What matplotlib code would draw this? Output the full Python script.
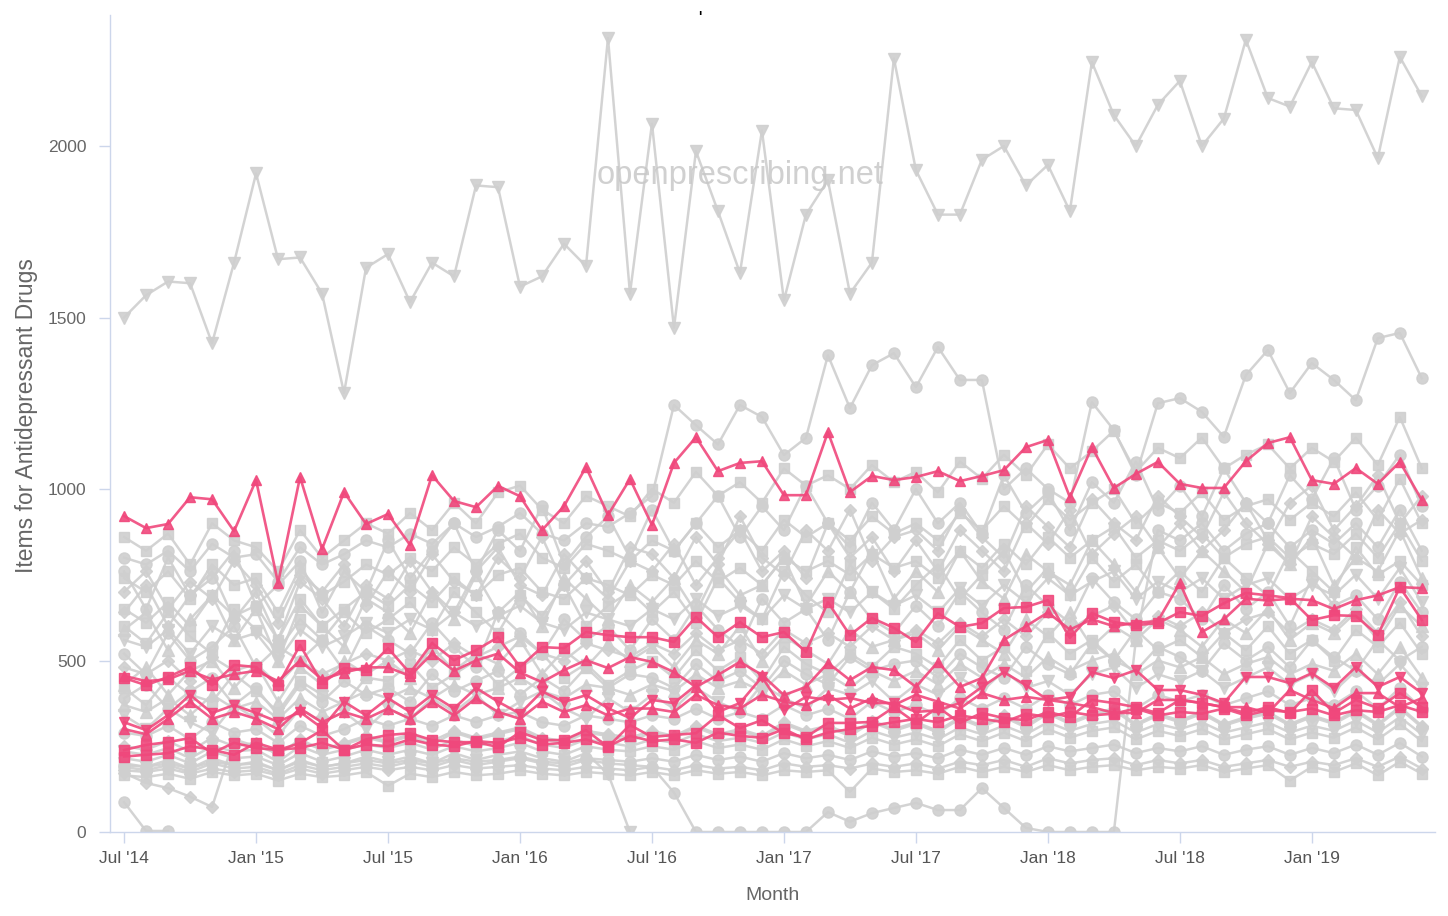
import numpy as np
import matplotlib
matplotlib.use("Agg")
import matplotlib.pyplot as plt

nan = np.nan

# month index 0 = Jul 2014 ... 59 = Jun 2019
tick_pos = [0, 6, 12, 18, 24, 30, 36, 42, 48, 54]
tick_labels = ["Jul '14", "Jan '15", "Jul '15", "Jan '16", "Jul '16",
               "Jan '17", "Jul '17", "Jan '18", "Jul '18", "Jan '19"]

# ---- grey (other practices) ----
g_top = [1500, 1565, 1605, 1600, 1425, 1660, 1920, 1670, 1675, 1570, 1280, 1645,
         1685, 1545, 1660, 1620, 1885, 1880, 1590, 1620, 1715, 1650, 2315, 1570,
         2065, 1470, 1985, 1810, 1630, 2045, 1550, 1800, 1900, 1570, 1660, 2255,
         1930, 1800, 1800, 1960, 2000, 1885, 1945, 1810, 2245, 2090, 2000, 2120,
         2190, 2000, 2080, 2310, 2140, 2115, 2245, 2110, 2105, 1965, 2260, 2145]
g_high = [800, 780, 820, 760, 840, 800, 810, 730, 830, 780, 810, 850,
          830, 870, 840, 900, 860, 890, 930, 870, 850, 900, 890, 930,
          980, 1245, 1186, 1130, 1245, 1210, 1099, 1149, 1390, 1236, 1361, 1396,
          1297, 1414, 1318, 1318, 1000, 1060, 1000, 960, 1253, 1172, 1040, 1250,
          1265, 1225, 1152, 1332, 1405, 1280, 1367, 1318, 1259, 1440, 1455, 1323]
g01 = [860, 820, 870, 780, 900, 850, 830, 760, 880, 800, 850, 900,
       870, 930, 880, 960, 900, 990, 1010, 940, 900, 980, 950, 920,
       1000, 960, 1050, 980, 1020, 960, 1060, 1010, 1040, 1000, 1070, 1020,
       1050, 990, 1080, 1030, 1100, 1040, 1130, 1060, 1110, 1170, 1050, 1120,
       1090, 1150, 1060, 1100, 1130, 1060, 1120, 1080, 1150, 1070, 1210, 1060]
g02 = [760, 650, 800, 690, 740, 820, 660, 720, 790, 640, 760, 700,
       850, 740, 820, 900, 760, 880, 820, 950, 780, 860, 920, 800,
       940, 820, 900, 980, 860, 950, 880, 1010, 900, 830, 960, 880,
       1000, 900, 960, 870, 1040, 930, 990, 880, 1020, 960, 1080, 940,
       1010, 920, 1060, 960, 900, 1040, 970, 1090, 940, 1010, 1100, 950]
g19 = [740, 700, 760, 680, 780, 720, 740, 640, 770, 690, 730, 780,
       750, 800, 760, 830, 780, 840, 870, 800, 770, 840, 820, 790,
       850, 820, 900, 830, 880, 820, 910, 860, 900, 850, 920, 870,
       900, 850, 930, 880, 950, 890, 970, 910, 960, 1000, 900, 960,
       930, 990, 910, 950, 970, 910, 960, 920, 990, 910, 1030, 900]
g21 = [700, 760, 650, 730, 680, 790, 720, 610, 750, 700, 780, 660,
       760, 700, 810, 730, 690, 800, 740, 860, 720, 790, 700, 830,
       810, 740, 860, 780, 920, 800, 750, 880, 820, 940, 790, 860,
       880, 820, 940, 860, 800, 950, 890, 830, 970, 900, 850, 980,
       920, 860, 990, 900, 840, 960, 1010, 880, 950, 1040, 900, 980]
g03 = [640, 720, 600, 690, 760, 620, 700, 560, 730, 680, 600, 720,
       680, 790, 700, 640, 760, 830, 720, 690, 810, 740, 680, 790,
       760, 840, 720, 800, 880, 760, 820, 740, 900, 800, 860, 760,
       850, 760, 880, 820, 760, 900, 840, 940, 810, 870, 920, 830,
       900, 820, 880, 960, 850, 780, 920, 860, 800, 940, 870, 910]
g04 = [650, 610, 670, 600, 690, 630, 660, 560, 680, 600, 650, 700,
       660, 720, 670, 740, 690, 750, 770, 700, 680, 740, 720, 690,
       750, 720, 790, 730, 770, 720, 800, 760, 790, 750, 810, 770,
       790, 740, 820, 770, 840, 780, 860, 800, 850, 890, 800, 850,
       820, 870, 800, 840, 860, 800, 840, 810, 870, 800, 900, 790]
g05 = [590, 640, 530, 620, 690, 560, 650, 500, 660, 600, 540, 680,
       640, 580, 700, 620, 750, 640, 700, 600, 740, 680, 620, 720,
       670, 740, 640, 770, 690, 720, 800, 660, 760, 700, 820, 680,
       760, 700, 820, 730, 680, 810, 760, 720, 850, 780, 700, 830,
       740, 820, 760, 700, 840, 780, 860, 720, 800, 760, 880, 740]
g06 = [560, 540, 590, 520, 600, 560, 580, 500, 590, 540, 570, 610,
       580, 620, 590, 640, 600, 630, 660, 610, 590, 640, 620, 600,
       650, 620, 680, 630, 660, 620, 690, 650, 680, 640, 700, 660,
       690, 640, 710, 660, 720, 670, 740, 690, 730, 760, 680, 730,
       700, 740, 680, 720, 740, 680, 720, 690, 750, 680, 770, 670]
g22 = [600, 550, 640, 570, 520, 650, 590, 530, 620, 560, 640, 580,
       620, 670, 590, 700, 640, 580, 690, 630, 720, 600, 660, 700,
       640, 700, 610, 740, 670, 620, 760, 690, 640, 780, 700, 650,
       720, 780, 680, 750, 820, 700, 770, 690, 800, 730, 780, 700,
       760, 700, 800, 740, 690, 820, 760, 700, 830, 750, 790, 720]
g07 = [520, 460, 580, 500, 540, 600, 480, 540, 500, 560, 470, 600,
       560, 520, 610, 540, 480, 640, 580, 520, 620, 560, 600, 530,
       620, 560, 660, 590, 540, 680, 610, 650, 560, 700, 620, 580,
       660, 600, 700, 640, 590, 720, 660, 610, 740, 670, 620, 700,
       680, 620, 720, 650, 700, 600, 740, 660, 690, 620, 730, 640]
g08 = [480, 460, 500, 440, 510, 470, 490, 430, 500, 460, 490, 520,
       500, 530, 500, 550, 510, 540, 570, 520, 500, 550, 530, 510,
       550, 520, 580, 530, 560, 520, 590, 550, 580, 540, 600, 560,
       590, 550, 610, 570, 620, 570, 640, 590, 630, 660, 580, 630,
       600, 640, 580, 620, 640, 580, 620, 590, 650, 580, 670, 570]
g20 = [430, 480, 400, 470, 500, 420, 490, 380, 480, 430, 500, 460,
       500, 450, 540, 470, 520, 490, 560, 460, 530, 480, 550, 500,
       540, 480, 560, 520, 600, 500, 570, 530, 490, 590, 540, 560,
       580, 530, 600, 560, 520, 620, 570, 640, 540, 600, 560, 620,
       590, 540, 620, 580, 650, 560, 610, 580, 640, 560, 660, 600]
g09 = [420, 370, 450, 400, 380, 460, 410, 350, 440, 400, 370, 450,
       440, 490, 420, 460, 500, 430, 480, 520, 450, 490, 430, 470,
       500, 450, 530, 470, 510, 440, 540, 490, 460, 520, 480, 540,
       520, 480, 560, 500, 540, 470, 580, 520, 560, 500, 590, 530,
       560, 510, 580, 530, 600, 520, 560, 500, 590, 540, 610, 520]
g23 = [390, 430, 360, 410, 450, 370, 420, 340, 430, 380, 440, 400,
       420, 380, 460, 410, 440, 470, 400, 450, 410, 480, 420, 460,
       450, 420, 490, 440, 470, 420, 500, 460, 430, 510, 470, 490,
       500, 450, 520, 480, 450, 540, 490, 460, 550, 500, 470, 540,
       510, 470, 550, 500, 540, 480, 560, 510, 470, 560, 500, 540]
g10 = [370, 350, 390, 340, 400, 360, 380, 330, 390, 350, 380, 410,
       390, 420, 390, 430, 400, 420, 450, 410, 390, 430, 420, 400,
       430, 410, 460, 420, 440, 410, 470, 430, 460, 420, 470, 440,
       470, 430, 490, 450, 490, 450, 510, 470, 500, 520, 460, 500,
       480, 510, 460, 490, 510, 460, 490, 470, 520, 460, 540, 450]
g11 = [340, 300, 360, 320, 290, 370, 330, 280, 360, 320, 350, 300,
       360, 330, 390, 350, 400, 340, 380, 410, 360, 330, 390, 350,
       400, 360, 420, 380, 350, 430, 390, 360, 420, 400, 440, 380,
       430, 400, 450, 410, 470, 420, 440, 400, 460, 480, 420, 460,
       440, 470, 420, 450, 480, 430, 460, 410, 470, 430, 490, 420]
g12 = [290, 280, 310, 270, 320, 290, 300, 260, 310, 280, 300, 330,
       310, 330, 310, 340, 320, 340, 350, 320, 310, 340, 330, 320,
       340, 330, 360, 330, 350, 330, 370, 340, 360, 330, 380, 350,
       370, 340, 390, 360, 390, 360, 400, 370, 400, 410, 360, 400,
       380, 400, 370, 390, 410, 370, 390, 370, 410, 360, 420, 360]
g13 = [250, 240, 265, 235, 275, 250, 260, 225, 270, 240, 260, 280,
       265, 285, 265, 295, 275, 290, 305, 275, 265, 295, 285, 275,
       295, 280, 310, 285, 300, 280, 320, 295, 310, 285, 325, 300,
       320, 295, 335, 310, 340, 310, 350, 320, 345, 360, 315, 345,
       325, 350, 315, 335, 350, 315, 340, 320, 355, 315, 365, 310]
g18 = [235, 225, 245, 215, 250, 235, 240, 205, 250, 225, 240, 255,
       245, 260, 240, 270, 250, 265, 280, 255, 245, 270, 260, 250,
       270, 260, 285, 265, 275, 260, 290, 270, 285, 260, 295, 275,
       290, 270, 305, 285, 310, 285, 320, 295, 315, 325, 290, 315,
       300, 320, 290, 305, 320, 290, 310, 295, 325, 290, 335, 285]
g14 = [215, 205, 225, 200, 235, 215, 220, 195, 230, 205, 220, 240,
       225, 240, 225, 250, 235, 245, 260, 235, 225, 250, 240, 235,
       250, 240, 265, 245, 255, 240, 270, 250, 265, 245, 275, 255,
       270, 250, 285, 265, 290, 265, 300, 275, 295, 305, 270, 295,
       280, 300, 270, 285, 300, 270, 290, 275, 305, 270, 315, 265]
g15 = [195, 190, 200, 185, 205, 195, 200, 180, 205, 190, 200, 210,
       200, 210, 200, 215, 205, 210, 220, 205, 200, 215, 210, 205,
       215, 205, 225, 210, 220, 205, 230, 215, 225, 210, 235, 220,
       230, 215, 240, 225, 245, 225, 250, 235, 245, 255, 230, 245,
       235, 250, 225, 240, 250, 225, 245, 230, 255, 225, 260, 220]
g16 = [180, 175, 185, 170, 185, 175, 180, 165, 185, 170, 180, 190,
       180, 190, 180, 195, 185, 190, 195, 185, 180, 190, 185, 180,
       190, 180, 195, 185, 190, 180, 200, 190, 195, 185, 200, 190,
       200, 185, 205, 195, 210, 190, 215, 200, 210, 215, 195, 210,
       200, 210, 190, 200, 210, 190, 205, 195, 215, 190, 220, 185]
g17 = [165, 160, 170, 155, 175, 165, 170, 150, 170, 160, 165, 175,
       135, 170, 160, 175, 165, 170, 180, 170, 165, 175, 170, 165,
       175, 165, 180, 170, 175, 165, 180, 175, 180, 117, 185, 175,
       180, 170, 190, 175, 190, 175, 195, 180, 190, 195, 180, 190,
       185, 195, 175, 185, 195, 150, 190, 175, 200, 165, 205, 170]
g_low1 = [172, 143, 128, 103, 73, 270, 250, 230, 265, 240, 255, 275,
          260, 280, 255, 290, 270, 285, 300, 270, 260, 290, 280, 265,
          290, 275, 305, 280, 295, 275, 315, 290, 305, 280, 320, 295,
          315, 290, 330, 305, 335, 305, 345, 315, 340, 355, 310, 340,
          320, 345, 310, 330, 345, 310, 335, 315, 350, 310, 360, 305]
g_zero1 = [87, 3, 3, nan, nan, nan, nan, nan, nan, nan, nan, nan,
           nan, nan, nan, nan, nan, nan, nan, nan, nan, nan, nan, nan,
           nan, nan, nan, nan, nan, nan, nan, nan, nan, nan, nan, nan,
           nan, nan, nan, nan, nan, nan, nan, nan, nan, nan, nan, nan,
           nan, nan, nan, nan, nan, nan, nan, nan, nan, nan, nan, nan]
g_zero2 = [200, 190, 210, 185, 215, 195, 205, 180, 210, 190, 200, 220,
           205, 220, 200, 230, 210, 225, 235, 215, 205, 230, 170, 0,
           nan, nan, nan, nan, nan, nan, nan, nan, nan, nan, nan, nan,
           nan, nan, nan, nan, nan, nan, nan, nan, nan, nan, nan, nan,
           nan, nan, nan, nan, nan, nan, nan, nan, nan, nan, nan, nan]
g_zero3 = [190, 180, 195, 175, 200, 185, 190, 170, 195, 180, 190, 200,
           190, 205, 190, 210, 195, 205, 215, 200, 190, 210, 200, 195,
           190, 115, 0, 0, 0, 0, 0, 0, 58, 30, 55, 70,
           85, 64, 64, 128, 70, 12, 0, 0, 0, 0, 560, 880,
           850, 900, 820, 870, 900, 830, 880, 840, 900, 830, 940, 820]

# ---- pink (highlighted practices) ----
p_top = [921, 886, 898, 976, 970, 877, 1026, 726, 1035, 825, 991, 898,
         927, 837, 1040, 965, 947, 1009, 979, 880, 950, 1064, 924, 1029,
         895, 1076, 1151, 1052, 1076, 1081, 982, 982, 1166, 991, 1038, 1026,
         1035, 1052, 1023, 1038, 1055, 1122, 1143, 976, 1122, 1003, 1044, 1079,
         1015, 1003, 1003, 1081, 1134, 1151, 1026, 1015, 1061, 1015, 1079, 968]
p_sq_a = [449, 428, 452, 481, 428, 487, 481, 428, 545, 434, 478, 472,
          536, 463, 551, 501, 530, 568, 481, 539, 536, 583, 574, 568,
          568, 554, 627, 568, 612, 568, 583, 525, 670, 574, 624, 595,
          554, 638, 598, 609, 653, 656, 676, 566, 638, 612, 603, 609,
          641, 630, 667, 697, 690, 682, 618, 632, 630, 574, 714, 618]
p_tri_b = [455, 440, 445, 470, 445, 460, 470, 440, 500, 445, 465, 480,
           480, 455, 520, 470, 500, 520, 465, 437, 472, 501, 478, 510,
           496, 466, 423, 458, 496, 458, 399, 423, 493, 443, 481, 472,
           423, 496, 423, 449, 560, 600, 640, 590, 620, 600, 610, 615,
           726, 583, 620, 680, 675, 680, 676, 650, 676, 690, 714, 711]
p_dtri_c = [320, 297, 341, 400, 347, 370, 347, 321, 350, 303, 380, 340,
            390, 350, 400, 360, 420, 380, 345, 410, 379, 399, 361, 332,
            385, 376, 428, 350, 376, 452, 355, 394, 385, 391, 376, 376,
            350, 355, 376, 423, 466, 428, 385, 394, 466, 449, 472, 414,
            414, 400, 376, 452, 452, 434, 463, 420, 481, 423, 452, 405]
p_tri_d = [300, 285, 330, 380, 330, 350, 330, 300, 360, 320, 350, 330,
           360, 330, 380, 340, 390, 350, 330, 380, 350, 370, 340, 360,
           360, 350, 400, 370, 360, 400, 380, 370, 400, 360, 390, 370,
           400, 380, 360, 405, 385, 394, 385, 376, 364, 347, 347, 385,
           385, 376, 364, 364, 347, 414, 385, 361, 405, 405, 364, 390]
p_sq_e = [239, 254, 262, 274, 230, 260, 245, 239, 259, 297, 239, 270,
          283, 288, 268, 262, 262, 248, 291, 268, 268, 297, 248, 312,
          277, 283, 288, 341, 303, 326, 288, 277, 318, 318, 321, 364,
          318, 364, 318, 347, 332, 326, 350, 335, 385, 376, 364, 347,
          385, 376, 364, 347, 364, 347, 414, 347, 385, 361, 405, 364]
p_sq_f = [220, 225, 230, 250, 240, 225, 260, 240, 245, 260, 240, 255,
          250, 270, 255, 250, 265, 260, 275, 255, 260, 270, 250, 280,
          265, 270, 260, 290, 280, 275, 300, 270, 290, 300, 310, 320,
          330, 320, 340, 330, 320, 345, 335, 350, 340, 345, 360, 340,
          350, 345, 360, 340, 355, 350, 360, 340, 355, 350, 370, 350]

grey_series = [
    (g_top, "v"), (g_high, "o"), (g01, "s"), (g02, "o"), (g19, "s"),
    (g21, "D"), (g03, "D"), (g04, "s"), (g05, "^"), (g06, "v"),
    (g22, "s"), (g07, "o"), (g08, "D"), (g20, "^"), (g09, "s"),
    (g23, "o"), (g10, "^"), (g11, "v"), (g12, "o"), (g13, "D"),
    (g18, "v"), (g14, "s"), (g15, "o"), (g16, "D"), (g17, "s"),
    (g_low1, "D"), (g_zero1, "o"), (g_zero2, "v"), (g_zero3, "o"),
]
pink_series = [
    (p_sq_f, "s"), (p_sq_e, "s"), (p_tri_d, "^"), (p_dtri_c, "v"),
    (p_tri_b, "^"), (p_sq_a, "s"), (p_top, "^"),
]

for vals, _ in grey_series + pink_series:
    assert len(vals) == 60, len(vals)

plt.rcParams['font.family'] = ['Liberation Sans', 'DejaVu Sans']

fig = plt.figure(figsize=(14.48, 9.16), dpi=100)
ax = fig.add_axes([110 / 1448, 84 / 916, 1325 / 1448, 817 / 916])

months = np.arange(60)
grey = "#cfcfcf"
pink = "#f0487c"
msize = {"o": 8, "s": 7.5, "D": 6, "^": 8, "v": 8}

for vals, mk in grey_series:
    ax.plot(months, vals, color=grey, lw=1.8, marker=mk, ms=msize[mk],
            mec=grey, mfc=grey, alpha=0.9, zorder=2)

for vals, mk in pink_series:
    ax.plot(months, vals, color=pink, lw=1.9, marker=mk, ms=msize[mk] - 0.5,
            mec=pink, mfc=pink, alpha=0.9, zorder=4)

ax.text(0.4755, 0.804, "openprescribing.net", transform=ax.transAxes,
        ha="center", va="center", fontsize=23.5, color="#c8c8c8", alpha=0.85,
        zorder=3)

ax.set_xlim(-0.64, 59.6)
ax.set_ylim(0, 2382)
ax.set_xticks(tick_pos)
ax.set_xticklabels(tick_labels)
ax.set_yticks([0, 500, 1000, 1500, 2000])

for s in ["top", "right"]:
    ax.spines[s].set_visible(False)
for s in ["left", "bottom"]:
    ax.spines[s].set_color("#ccd6eb")
    ax.spines[s].set_linewidth(1.0)

ax.tick_params(axis="x", length=8, width=1, color="#ccd6eb", pad=6,
               labelsize=12.5, labelcolor="#555555")
ax.tick_params(axis="y", length=8, width=1, color="#ccd6eb", pad=9,
               labelsize=12.5, labelcolor="#666666")

fig.text(773 / 1448, 1 - 895 / 916, "Month", ha="center", va="center",
         fontsize=14, color="#666666")
fig.text(27 / 1448, 1 - 416 / 916, "Items for Antidepressant Drugs",
         ha="center", va="center", rotation=90, fontsize=16.5, color="#666666")
fig.text(700 / 1448, 1 - 17 / 916, "'", ha="center", va="center",
         fontsize=10, color="black", fontweight="bold")

fig.savefig("out.png", dpi=100)
